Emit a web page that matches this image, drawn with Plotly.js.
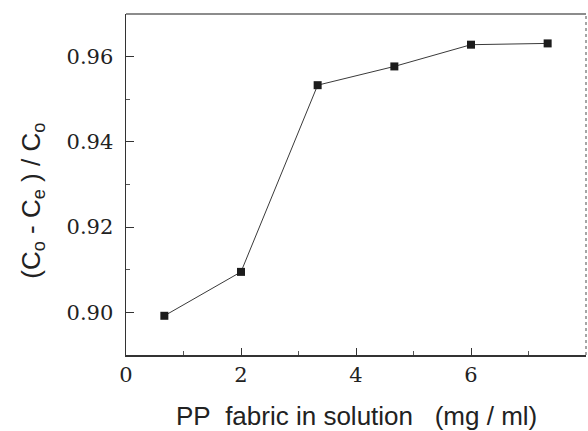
<!DOCTYPE html>
<html>
<head>
<meta charset="utf-8">
<script src="https://cdn.plot.ly/plotly-3.0.1.min.js"></script>
<style>
  html, body { margin: 0; padding: 0; background: #fff; }
  #chart { width: 588px; height: 431px; }
</style>
</head>
<body>
<div id="chart"></div>
<script>
// Fabric dose (mg/ml) and removal fraction (Co - Ce)/Co
const fabricDose = [0.667, 2.0, 3.333, 4.667, 6.0, 7.333];
const removalFraction = [0.8992, 0.9095, 0.9533, 0.9577, 0.9628, 0.9631];
const xTickValues = [0, 2, 4, 6, 8];
const yTickValues = [0.90, 0.92, 0.94, 0.96];
const yTickLabels = ['0.90', '0.92', '0.94', '0.96'];

const trace = {
  x: fabricDose,
  y: removalFraction,
  type: 'scatter',
  mode: 'lines+markers',
  line: { color: '#3a3a3a', width: 1 },
  marker: { symbol: 'square', size: 8, color: '#1c1c1c' },
  cliponaxis: false,
  hoverinfo: 'skip'
};

const sansFamily = 'Liberation Sans';
const tickFont = { family: 'DejaVu Serif', size: 21, color: '#222' };

const layout = {
  width: 588,
  height: 431,
  margin: { l: 126, r: 2, t: 14, b: 76 },
  paper_bgcolor: '#fff',
  plot_bgcolor: '#fff',
  showlegend: false,
  font: { family: sansFamily, size: 21, color: '#222' },
  xaxis: {
    range: [0, 8],
    tickmode: 'array',
    tickvals: xTickValues,
    ticktext: xTickValues.map(String),
    ticks: 'inside',
    ticklen: 7,
    tickwidth: 1,
    tickcolor: '#333',
    minor: { dtick: 1, tick0: 0, ticks: 'inside', ticklen: 4, tickcolor: '#555', tickwidth: 1 },
    showline: true,
    linecolor: '#333',
    linewidth: 1.5,
    showgrid: false,
    zeroline: false,
    tickfont: tickFont,
    ticklabelstandoff: 0
  },
  yaxis: {
    range: [0.89, 0.97],
    tickmode: 'array',
    tickvals: yTickValues,
    ticktext: yTickLabels,
    ticks: 'inside',
    ticklen: 8,
    tickwidth: 1,
    tickcolor: '#333',
    minor: { dtick: 0.01, tick0: 0.89, ticks: 'inside', ticklen: 4, tickcolor: '#555', tickwidth: 1 },
    showline: true,
    linecolor: '#333',
    linewidth: 1.5,
    showgrid: false,
    zeroline: false,
    tickfont: tickFont,
    ticklabelstandoff: 7
  },
  shapes: [
    // top frame line
    { type: 'line', xref: 'paper', yref: 'paper', x0: 0, x1: 1, y0: 1, y1: 1,
      line: { color: '#666', width: 1.5 } },
    // right frame line, dotted
    { type: 'line', xref: 'paper', yref: 'paper', x0: 1, x1: 1, y0: 0, y1: 1,
      line: { color: '#888', width: 1.5, dash: 'dot' } }
  ],
  annotations: [
    {
      text: 'PP\u00a0\u00a0fabric in solution\u00a0\u00a0\u00a0(mg / ml)',
      xref: 'paper', yref: 'paper',
      x: 0.5, y: -0.18, xanchor: 'center', yanchor: 'middle',
      showarrow: false, font: { family: sansFamily, size: 26, color: '#222' }
    },
    {
      text: '(C<sub>o</sub> - C<sub>e</sub> ) / C<sub>o</sub>',
      xref: 'paper', yref: 'paper',
      x: -0.205, y: 0.4516, xanchor: 'center', yanchor: 'middle',
      textangle: -90,
      showarrow: false, font: { family: sansFamily, size: 26, color: '#222' }
    }
  ]
};

Plotly.newPlot('chart', [trace], layout, { staticPlot: true, displayModeBar: false });
</script>
</body>
</html>
